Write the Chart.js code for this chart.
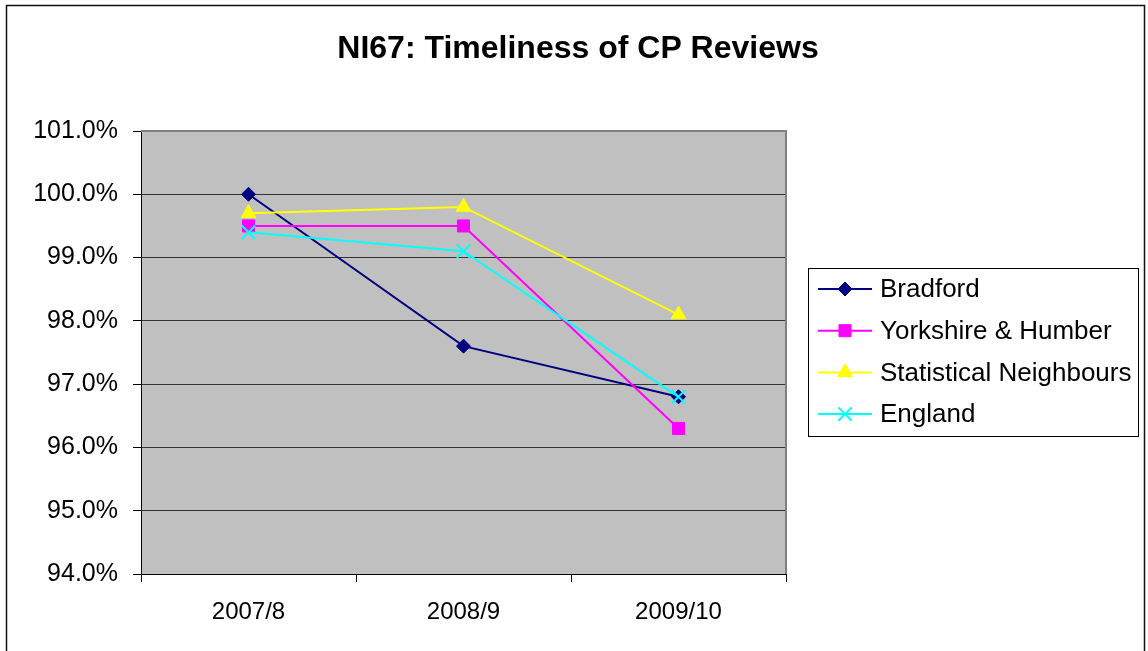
<!DOCTYPE html>
<html lang="en">
<head>
  <meta charset="UTF-8" />
  <title>NI67: Timeliness of CP Reviews</title>
  <script src="https://cdn.jsdelivr.net/npm/chart.js"></script>
  <style>
    html, body { margin: 0; padding: 0; background: #fff; }
    #wrap { width: 1148px; height: 651px; position: relative; }
  </style>
</head>
<body>
  <div id="wrap"><canvas id="ni67"></canvas></div>

  <script>
    // values (percent)
    const categories = ['2007/8', '2008/9', '2009/10'];
    const bradford = [100.0, 97.6, 96.8];
    const yorkshire = [99.5, 99.5, 96.3];
    const statNeighbours = [99.7, 99.8, 98.1];
    const england = [99.4, 99.1, 96.8];
    const yMin = 94, yMax = 101, yStep = 1;

    const FONT = "'Liberation Sans', Arial, sans-serif";

    // background, plot area, frame, title, legend
    const decor = {
      id: 'decor',
      beforeDraw(chart) {
        const ctx = chart.ctx, a = chart.chartArea;
        ctx.save();
        ctx.fillStyle = '#fff';
        ctx.fillRect(0, 0, chart.width, chart.height);
        ctx.fillStyle = '#c0c0c0';
        ctx.fillRect(a.left, a.top, a.right - a.left, a.bottom - a.top);
        // outer frame, runs off the bottom
        ctx.strokeStyle = '#111';
        ctx.lineWidth = 1.5;
        ctx.strokeRect(6.5, 5.5, 1138, 700);
        // title
        ctx.fillStyle = '#000';
        ctx.font = 'bold 32px ' + FONT;
        ctx.textAlign = 'center';
        ctx.textBaseline = 'middle';
        ctx.fillText('NI67: Timeliness of CP Reviews', 578, 49);
        ctx.restore();
      },
      beforeDatasetsDraw(chart) {
        const ctx = chart.ctx, a = chart.chartArea;
        ctx.save();
        ctx.strokeStyle = '#808080';
        ctx.lineWidth = 2;
        ctx.beginPath();
        ctx.moveTo(a.left, a.top);
        ctx.lineTo(a.right, a.top);
        ctx.lineTo(a.right, a.bottom);
        ctx.stroke();
        ctx.restore();
      },
      afterDraw(chart) {
        const ctx = chart.ctx;
        const box = { x: 808.5, y: 268.5, w: 330, h: 168 };
        ctx.save();
        ctx.fillStyle = '#fff';
        ctx.fillRect(box.x, box.y, box.w, box.h);
        ctx.strokeStyle = '#000';
        ctx.lineWidth = 1;
        ctx.strokeRect(box.x, box.y, box.w, box.h);
        const sets = chart.data.datasets;
        sets.forEach((ds, i) => {
          const y = 289 + i * 41.7;
          ctx.strokeStyle = ds.borderColor;
          ctx.lineWidth = ds.borderWidth;
          ctx.beginPath();
          ctx.moveTo(818, y);
          ctx.lineTo(872, y);
          ctx.stroke();
          ctx.fillStyle = ds.pointBackgroundColor;
          ctx.strokeStyle = ds.pointBorderColor;
          ctx.lineWidth = ds.pointBorderWidth;
          Chart.helpers.drawPoint(ctx, {
            pointStyle: ds.pointStyle,
            radius: ds.pointRadius,
            borderWidth: ds.pointBorderWidth,
            rotation: 0
          }, 845, y);
          ctx.fillStyle = '#000';
          ctx.font = '26px ' + FONT;
          ctx.textAlign = 'left';
          ctx.textBaseline = 'middle';
          ctx.fillText(ds.label, 880, y + 1);
        });
        ctx.restore();
      }
    };

    function series(label, data, color, style, radius, order) {
      return {
        label, data, order,
        borderColor: color,
        backgroundColor: color,
        borderWidth: 2,
        pointStyle: style,
        pointRadius: radius,
        pointHoverRadius: radius,
        pointBackgroundColor: color,
        pointBorderColor: color,
        pointBorderWidth: style === 'crossRot' ? 2 : 1,
        tension: 0
      };
    }

    new Chart(document.getElementById('ni67'), {
      type: 'line',
      data: {
        labels: categories,
        datasets: [
          series('Bradford', bradford, '#000080', 'rectRot', 7, 4),
          series('Yorkshire & Humber', yorkshire, '#ff00ff', 'rect', 8.5, 3),
          series('Statistical Neighbours', statNeighbours, '#ffff00', 'triangle', 8.5, 2),
          series('England', england, '#00ffff', 'crossRot', 9.5, 1)
        ]
      },
      plugins: [decor],
      options: {
        responsive: true,
        maintainAspectRatio: false,
        animation: false,
        layout: { padding: { top: 131, right: 362, left: 0, bottom: 0 } },
        plugins: {
          legend: { display: false },
          title: { display: false },
          tooltip: { enabled: false }
        },
        scales: {
          x: {
            offset: true,
            afterFit(s) { s.height = 77; },
            grid: {
              offset: true,
              drawOnChartArea: false,
              tickLength: 8,
              color: '#000',
              tickColor: '#000'
            },
            border: { color: '#000', width: 1 },
            ticks: {
              color: '#000',
              font: { family: FONT, size: 24 },
              padding: 16,
              maxRotation: 0
            }
          },
          y: {
            min: yMin,
            max: yMax,
            afterFit(s) { s.width = 141; },
            grid: {
              color: '#333',
              tickLength: 8,
              tickColor: '#000'
            },
            border: { color: '#000', width: 1 },
            ticks: {
              stepSize: yStep,
              color: '#000',
              padding: 15,
              font: { family: FONT, size: 25 },
              callback: v => v.toFixed(1) + '%'
            }
          }
        }
      }
    });
  </script>
</body>
</html>
